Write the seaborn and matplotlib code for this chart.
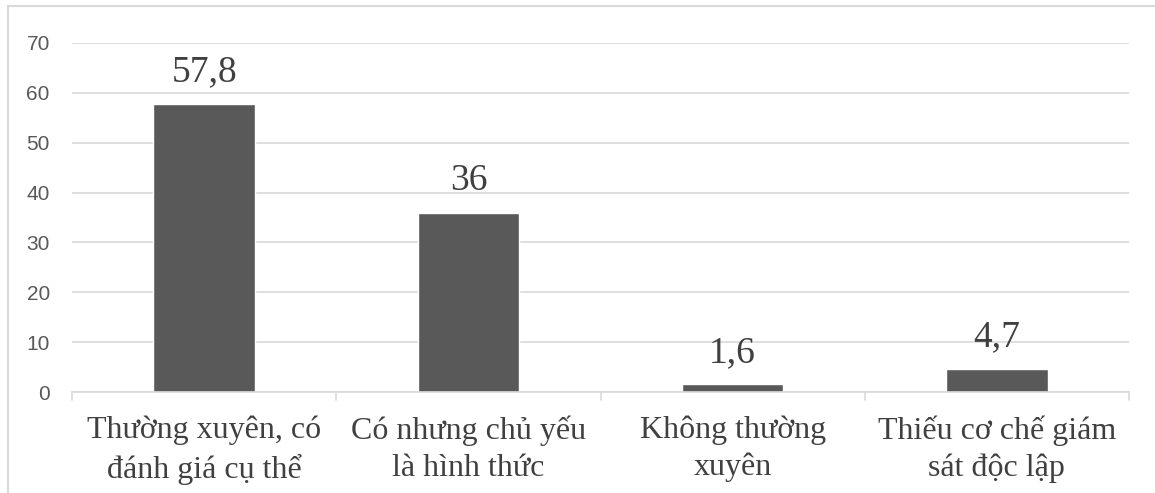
import matplotlib
matplotlib.use("Agg")
import matplotlib.pyplot as plt
import seaborn as sns
import pandas as pd
from matplotlib.patches import Rectangle

categories = ["Thường xuyên, có\nđánh giá cụ thể",
              "Có nhưng chủ yếu\nlà hình thức",
              "Không thường\nxuyên",
              "Thiếu cơ chế giám\nsát độc lập"]
values = [57.8, 36, 1.6, 4.7]
value_labels = ["57,8", "36", "1,6", "4,7"]
yticks = [0, 10, 20, 30, 40, 50, 60, 70]

df = pd.DataFrame({"cat": categories, "val": values})

sns.set_style("white")
plt.rcParams["font.family"] = ["Liberation Serif", "DejaVu Serif"]

W, H = 1155, 493
fig = plt.figure(figsize=(W / 100, H / 100), dpi=100)
ax = fig.add_axes([72 / W, 1 - 392 / H, (1129 - 72) / W, (392 - 43) / H])

sns.barplot(data=df, x="cat", y="val", color="#595959", saturation=1,
            width=0.385, ax=ax)

ax.set_ylim(0, 70)
ax.set_xlim(-0.5, 3.5)
ax.set_yticks(yticks)
ax.set_yticklabels([str(t) for t in yticks], family="Liberation Sans",
                   fontsize=15, color="#595959")
ax.yaxis.grid(True, color="#d9d9d9", linewidth=1.2)
ax.set_axisbelow(True)
ax.tick_params(axis="y", length=0, pad=16)
ax.tick_params(axis="x", length=0, pad=17)
ax.set_xticklabels(categories, fontsize=23, color="#404040", linespacing=1.35)
ax.set_xlabel("")
ax.set_ylabel("")
for s in ["top", "right", "left"]:
    ax.spines[s].set_visible(False)
ax.spines["bottom"].set_color("#d9d9d9")
ax.spines["bottom"].set_linewidth(1.2)

# category separator ticks below the axis
for b in [-0.5, 0.5, 1.5, 2.5, 3.5]:
    ax.plot([b, b], [0, -1.6], color="#d9d9d9", linewidth=1.2,
            clip_on=False, transform=ax.transData)

for i, (v, lab) in enumerate(zip(values, value_labels)):
    ax.annotate(lab, (i, v), xytext=(0, 16), textcoords="offset points",
                ha="center", va="baseline", fontsize=27, color="#404040")

# outer chart frame
fig.patches.append(Rectangle((8 / W, -0.1), 1.2, 1 - 6 / H + 0.1,
                             transform=fig.transFigure, fill=False,
                             edgecolor="#d9d9d9", linewidth=1.5))

fig.savefig("out.png", dpi=100, facecolor="white")
